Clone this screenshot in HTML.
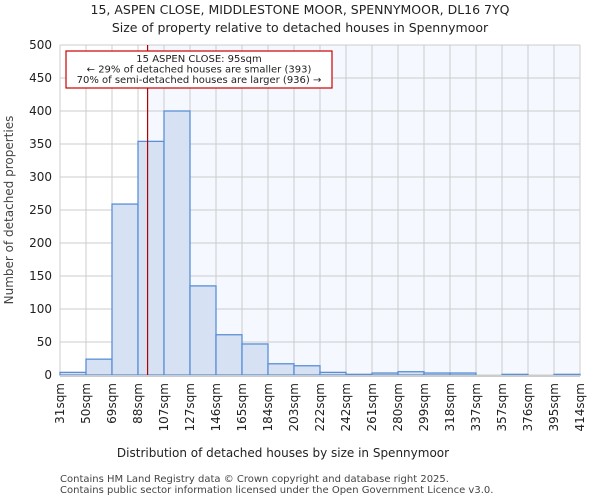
<!DOCTYPE html>
<html><head><meta charset="utf-8"><style>
body{margin:0;background:#fff;font-family:"DejaVu Sans","Liberation Sans",sans-serif}
text{font-family:"DejaVu Sans","Liberation Sans",sans-serif}
</style></head><body>
<svg id="c" width="600" height="500">
<text x="300" y="14" text-anchor="middle" font-size="12.5" fill="#222">15, ASPEN CLOSE, MIDDLESTONE MOOR, SPENNYMOOR, DL16 7YQ</text>
<text x="300" y="32" text-anchor="middle" font-size="12.5" fill="#222">Size of property relative to detached houses in Spennymoor</text>
<rect x="60" y="45" width="520" height="330" fill="#ffffff"/>
<g id="bg"></g><g id="grid"></g><g id="bars"></g><g id="axes"></g>
<text x="283" y="457" text-anchor="middle" font-size="12" fill="#222">Distribution of detached houses by size in Spennymoor</text>
<text transform="translate(13,210) rotate(-90)" text-anchor="middle" font-size="12" fill="#444">Number of detached properties</text>
<text x="60" y="482" font-size="10" fill="#444">Contains HM Land Registry data © Crown copyright and database right 2025.</text>
<text x="60" y="493" font-size="10" fill="#444">Contains public sector information licensed under the Open Government Licence v3.0.</text>
</svg>
<script>
const binLabels=["31sqm","50sqm","69sqm","88sqm","107sqm","127sqm","146sqm","165sqm","184sqm","203sqm","222sqm","242sqm","261sqm","280sqm","299sqm","318sqm","337sqm","357sqm","376sqm","395sqm","414sqm"];
const counts=[4,24,259,354,400,135,61,47,17,14,4,1,3,5,3,3,0,1,0,1];
const yTicks=[0,50,100,150,200,250,300,350,400,450,500];
const propertySize=95;
const binEdges=[31,50,69,88,107,127,146,165,184,203,222,242,261,280,299,318,337,357,376,395,414];
const NS="http://www.w3.org/2000/svg";
const X0=60,X1=580,Y0=375,Y1=45;
const bw=(X1-X0)/counts.length;
const xi=i=>X0+i*bw;
const y=v=>Y0-(v/500)*(Y0-Y1);
function mk(t,a,p){const e=document.createElementNS(NS,t);for(const k in a)e.setAttribute(k,a[k]);p.appendChild(e);return e;}
const g=document.getElementById('grid'),b=document.getElementById('bars'),ax=document.getElementById('axes'),bg=document.getElementById('bg');
let k=0;while(k<binEdges.length-2&&propertySize>binEdges[k+1])k++;
const px=xi(k)+bw*(propertySize-binEdges[k])/(binEdges[k+1]-binEdges[k]);
const sh=mk('rect',{x:px,y:Y1,width:X1-px,height:Y0-Y1,fill:'#f5f8fe'},bg);

yTicks.forEach(v=>{const l=mk('line',{x1:X0,x2:X1,y1:y(v),y2:y(v),stroke:'#ccc'},g);

const t=mk('text',{x:X0-8,y:y(v)+4,'text-anchor':'end','font-size':12,fill:'#222'},ax);t.textContent=v;
});
binLabels.forEach((s,i)=>{const l=mk('line',{x1:xi(i),x2:xi(i),y1:Y1,y2:Y0,stroke:'#ccc'},g);

const t=mk('text',{transform:`translate(${xi(i)+4},${Y0+8}) rotate(-90)`,'text-anchor':'end','font-size':12,fill:'#222'},ax);t.textContent=s;
});
counts.forEach((v,i)=>{const r=mk('rect',{x:xi(i),y:y(v),width:bw,height:Y0-y(v),fill:'#d6e2f4',stroke:'#5a8fd6','stroke-width':1.3},b);
});
const al=mk('line',{x1:X0,x2:X1,y1:Y0+1,y2:Y0+1,stroke:'#ccc','stroke-width':2},ax);

const ml=mk('line',{x1:px,x2:px,y1:Y1,y2:Y0,stroke:'#b00000','stroke-width':1.2},ax);

const bx=mk('rect',{x:66,y:51,width:266,height:37,fill:'#fff',stroke:'#cc0000','stroke-width':1.2},ax);

["15 ASPEN CLOSE: "+propertySize+"sqm","← 29% of detached houses are smaller (393)","70% of semi-detached houses are larger (936) →"].forEach((s,i)=>{
const t=mk('text',{x:199,y:62+i*10.5,'text-anchor':'middle','font-size':10,fill:'#222'},ax);t.textContent=s;
});
</script>
</body></html>
